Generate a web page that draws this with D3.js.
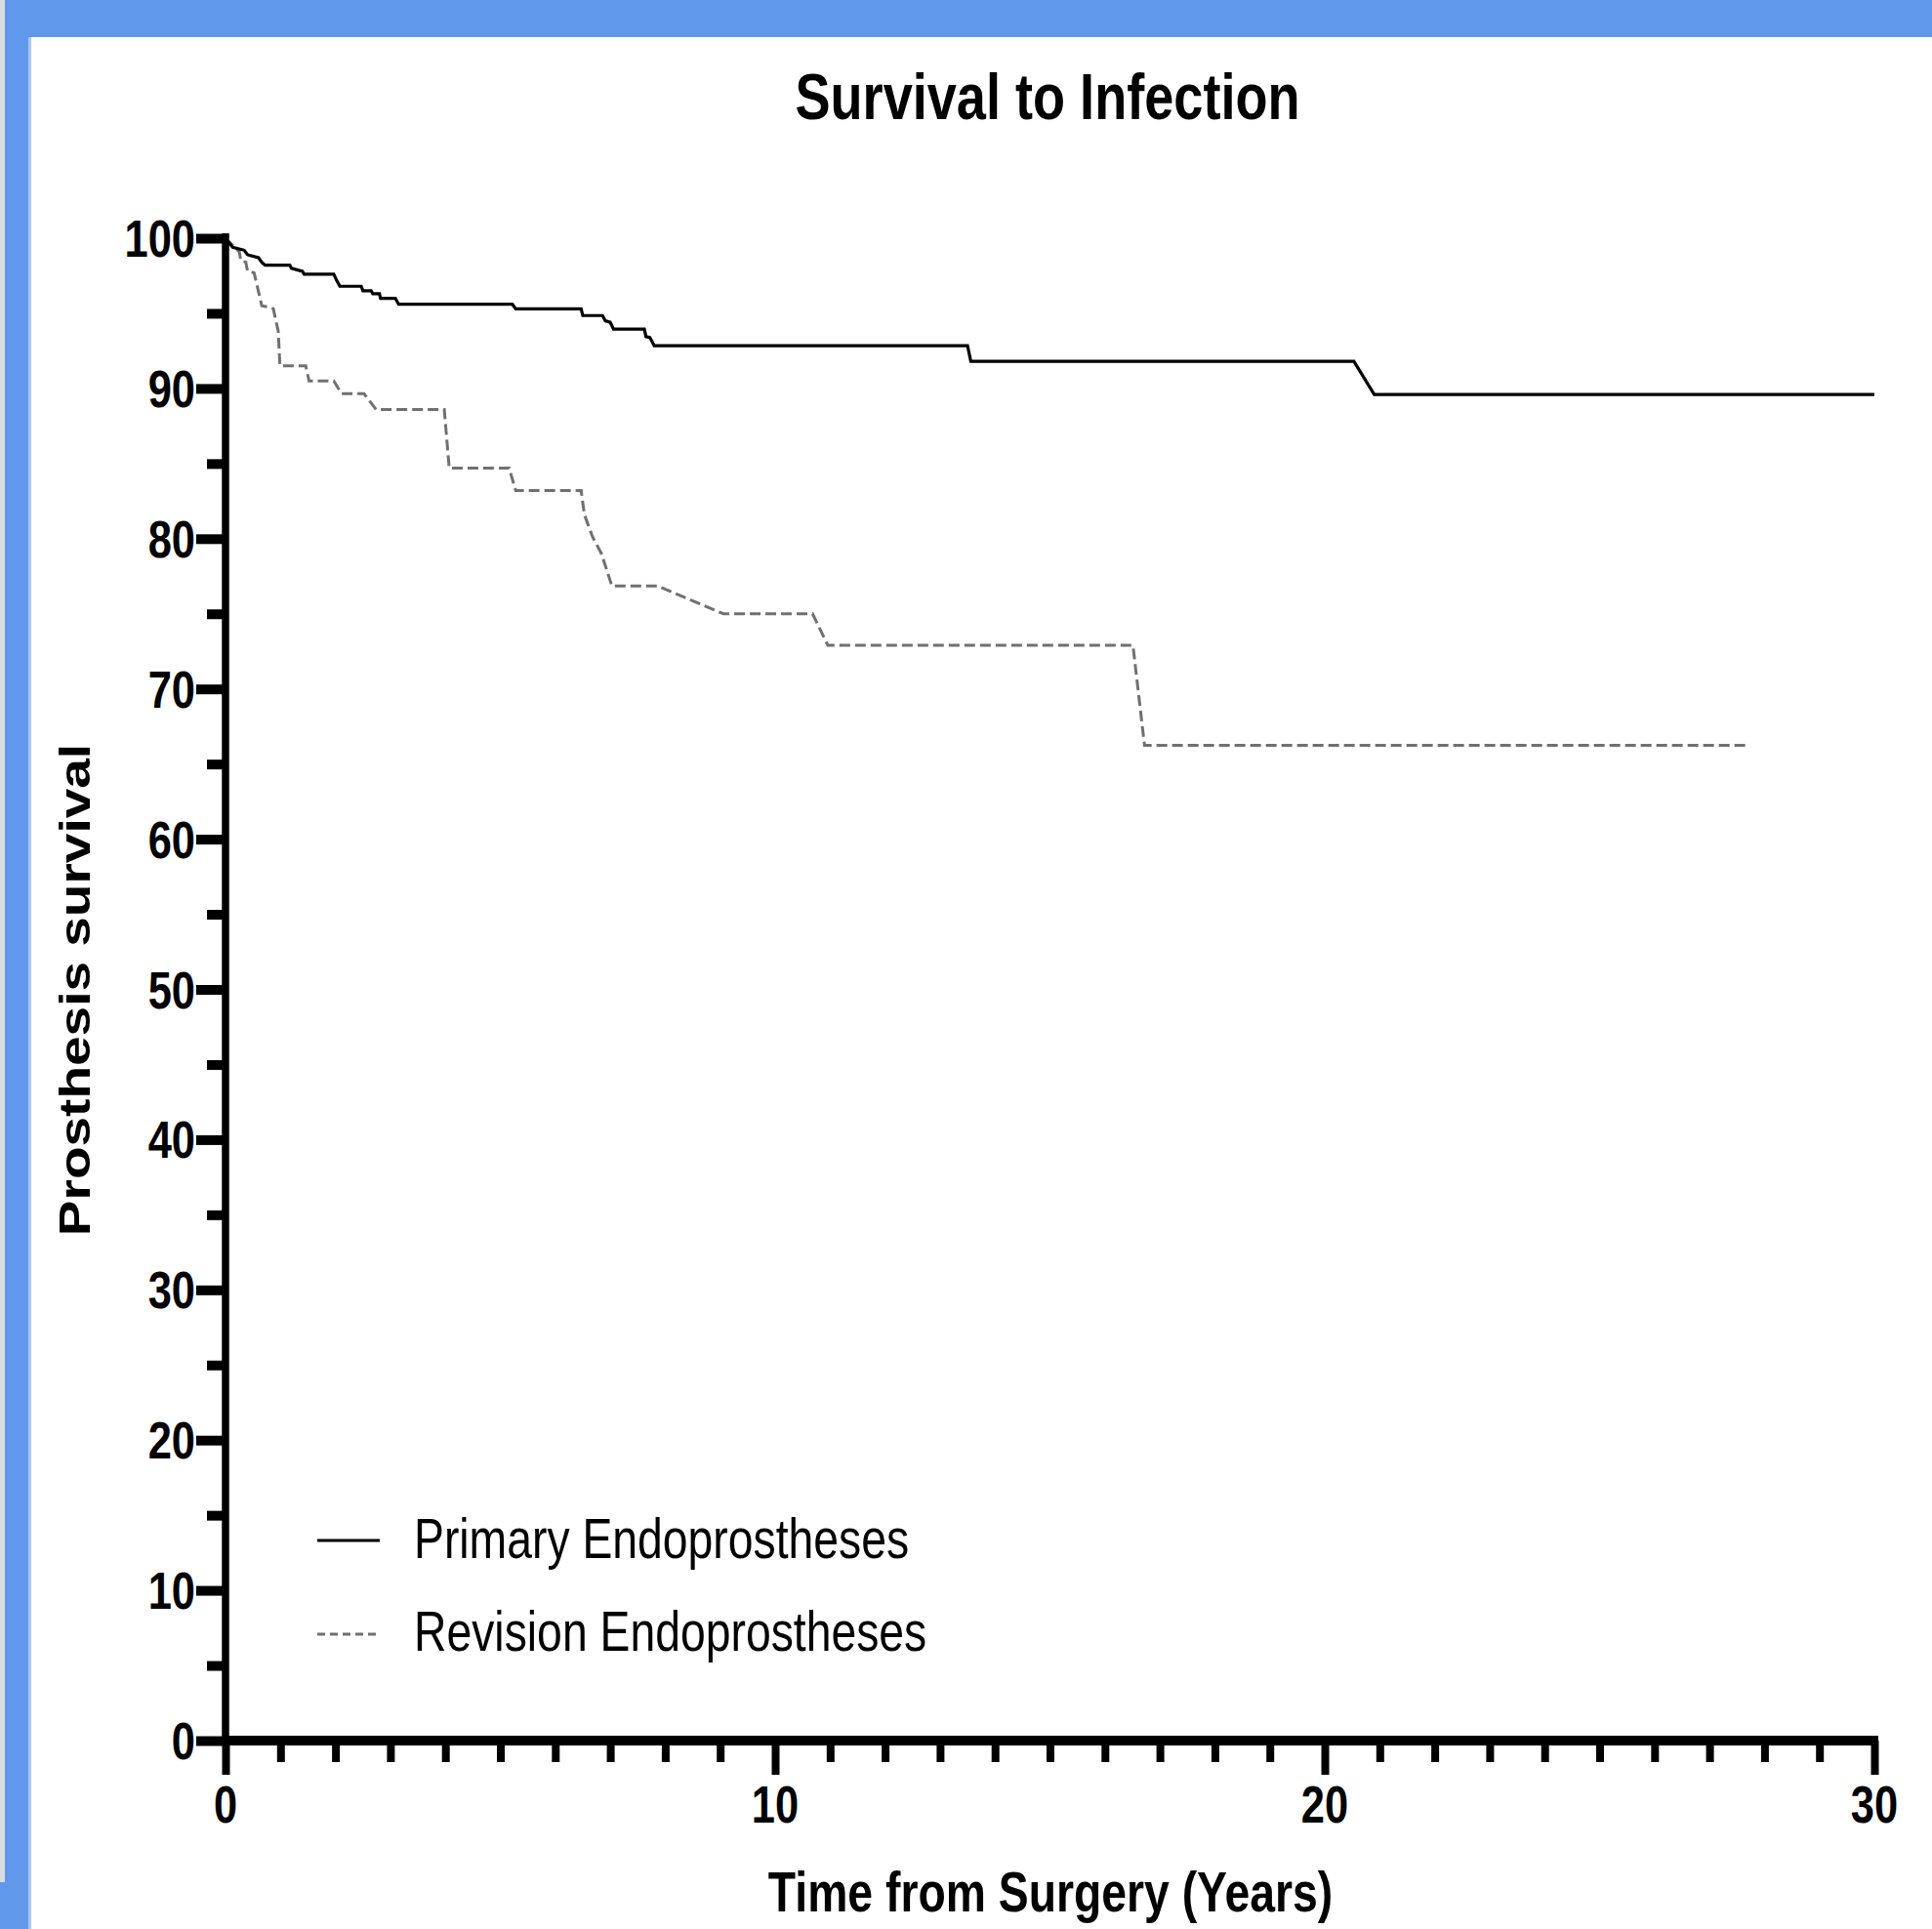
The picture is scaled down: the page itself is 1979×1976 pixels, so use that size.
<!DOCTYPE html>
<html>
<head>
<meta charset="utf-8">
<script src="https://cdn.jsdelivr.net/npm/d3@7"></script>
<style>
  html, body { margin: 0; padding: 0; background: #ffffff; }
  svg { display: block; }
</style>
</head>
<body>
<script>
// ---- data ----
const primaryTime = [0, 0.13, 0.34, 0.40, 0.60, 0.66, 0.72, 1.17, 1.20, 1.40, 1.43, 1.97, 2.02, 2.08, 2.47, 2.50, 2.65, 2.68, 2.80, 2.82, 3.09, 3.15, 5.22, 5.28, 6.47, 6.50, 6.86, 6.91, 7.00, 7.06, 7.62, 7.65, 7.72, 7.80, 13.50, 13.56, 20.53, 20.90, 30.0];
const primarySurv = [100, 99.4, 99.2, 98.9, 98.7, 98.4, 98.2, 98.2, 98.0, 97.8, 97.6, 97.6, 97.2, 96.8, 96.8, 96.5, 96.5, 96.3, 96.3, 96.0, 96.0, 95.6, 95.6, 95.3, 95.3, 94.85, 94.85, 94.5, 94.4, 93.95, 93.95, 93.45, 93.4, 92.85, 92.85, 91.8, 91.8, 89.6, 89.6];

const revisionTime = [0, 0.25, 0.28, 0.37, 0.40, 0.52, 0.66, 0.81, 0.87, 0.96, 0.99, 1.46, 1.52, 1.97, 2.11, 2.52, 2.74, 3.98, 4.07, 5.16, 5.28, 6.47, 6.53, 6.68, 6.84, 7.03, 7.86, 9.06, 10.68, 10.96, 16.51, 16.72, 27.65];
const revisionSurv = [100, 99.1, 98.5, 98.4, 97.8, 97.7, 95.5, 95.4, 95.3, 93.8, 91.5, 91.5, 90.5, 90.5, 89.65, 89.65, 88.6, 88.6, 84.7, 84.7, 83.2, 83.2, 81.6, 80.1, 79.0, 76.85, 76.85, 75.0, 75.0, 72.9, 72.9, 66.25, 66.25];

const seriesNames = ["Primary Endoprostheses", "Revision Endoprostheses"];
const yMajorTicks = [0, 10, 20, 30, 40, 50, 60, 70, 80, 90, 100];
const yMinorTicks = [5, 15, 25, 35, 45, 55, 65, 75, 85, 95];
const xMajorTicks = [0, 10, 20, 30];
const xMinorTicks = [1,2,3,4,5,6,7,8,9,11,12,13,14,15,16,17,18,19,21,22,23,24,25,26,27,28,29];
const titleText = "Survival to Infection";
const xTitle = "Time from Surgery (Years)";
const yTitle = "Prosthesis survival";

// ---- layout ----
const W = 1979, H = 1976;
const SQ = 0.82; // horizontal squeeze of the original picture
const FONT = "'Liberation Sans', Arial, Helvetica, sans-serif";

const svg = d3.select("body").append("svg")
  .attr("width", W).attr("height", H)
  .attr("viewBox", `0 0 ${W} ${H}`);

// frame
svg.append("rect").attr("x", 0).attr("y", 0).attr("width", W).attr("height", H).attr("fill", "#ffffff");
svg.append("rect").attr("x", 0).attr("y", 0).attr("width", W).attr("height", 38).attr("fill", "#6099eb");
svg.append("rect").attr("x", 0).attr("y", 0).attr("width", 32).attr("height", H).attr("fill", "#6099eb");
svg.append("rect").attr("x", 0).attr("y", 0).attr("width", 5).attr("height", 1928).attr("fill", "#dcdcdc");
svg.append("rect").attr("x", 29).attr("y", 38).attr("width", 3).attr("height", H - 38).attr("fill", "#a9c7f3");

const x = d3.scaleLinear().domain([0, 30]).range([231, 1920]);
const y = d3.scaleLinear().domain([0, 100]).range([1783, 244]);

function sqText(px, py, str, opts) {
  const g = svg.append("g")
    .attr("transform", `translate(${px},${py}) scale(${SQ},1)` + (opts.rotate ? ` rotate(${opts.rotate})` : ""));
  g.append("text")
    .attr("x", 0).attr("y", 0)
    .attr("text-anchor", opts.anchor || "start")
    .attr("font-family", FONT)
    .attr("font-weight", opts.weight || "bold")
    .attr("font-size", opts.size)
    .attr("fill", "#000")
    .text(str);
}

// ---- axes ----
const yAxisMajor = d3.axisLeft(y).tickValues(yMajorTicks).tickSize(30).tickSizeOuter(0).tickFormat("");
const yAxisMinor = d3.axisLeft(y).tickValues(yMinorTicks).tickSize(19).tickSizeOuter(0).tickFormat("");
const xAxisMajor = d3.axisBottom(x).tickValues(xMajorTicks).tickSize(35).tickSizeOuter(0).tickFormat("");
const xAxisMinor = d3.axisBottom(x).tickValues(xMinorTicks).tickSize(22).tickSizeOuter(0).tickFormat("");

function styleAxis(g, tickW) {
  g.select(".domain").remove();
  g.selectAll(".tick line").attr("stroke", "#000").attr("stroke-width", tickW);
}

const gy1 = svg.append("g").attr("transform", `translate(${x(0)},0)`).call(yAxisMajor);
styleAxis(gy1, 10);
const gy2 = svg.append("g").attr("transform", `translate(${x(0)},0)`).call(yAxisMinor);
styleAxis(gy2, 10);
const gx1 = svg.append("g").attr("transform", `translate(0,${y(0)})`).call(xAxisMajor);
styleAxis(gx1, 8);
const gx2 = svg.append("g").attr("transform", `translate(0,${y(0)})`).call(xAxisMinor);
styleAxis(gx2, 8);

// axis lines
svg.append("line")
  .attr("x1", x(0)).attr("x2", x(0))
  .attr("y1", y(100) - 5).attr("y2", y(0) + 5)
  .attr("stroke", "#000").attr("stroke-width", 7.5);
svg.append("line")
  .attr("x1", x(0)).attr("x2", x(30) + 4)
  .attr("y1", y(0)).attr("y2", y(0))
  .attr("stroke", "#000").attr("stroke-width", 10);

// tick labels
yMajorTicks.forEach(v => sqText(200, y(v) + 19, String(v), { anchor: "end", size: 53 }));
xMajorTicks.forEach(t => sqText(x(t), 1867, String(t), { anchor: "middle", size: 53 }));

// titles
sqText(1073, 122, titleText, { anchor: "middle", size: 66 });
sqText(1076, 1958, xTitle, { anchor: "middle", size: 56.5 });
sqText(92, 1014, yTitle, { anchor: "middle", size: 55, rotate: -90 });

// ---- curves ----
const line = d3.line().x(d => x(d[0])).y(d => y(d[1]));
const primaryData = primaryTime.map((t, i) => [t, primarySurv[i]]);
const revisionData = revisionTime.map((t, i) => [t, revisionSurv[i]]);

svg.append("path").datum(revisionData)
  .attr("d", line)
  .attr("fill", "none")
  .attr("stroke", "#707070")
  .attr("stroke-width", 3)
  .attr("stroke-dasharray", "11,5");

svg.append("path").datum(primaryData)
  .attr("d", line)
  .attr("fill", "none")
  .attr("stroke", "#000")
  .attr("stroke-width", 3.2)
  .attr("stroke-linejoin", "miter");

// ---- legend ----
svg.append("line").attr("x1", 325).attr("x2", 389).attr("y1", 1578).attr("y2", 1578)
  .attr("stroke", "#000").attr("stroke-width", 3);
svg.append("line").attr("x1", 325).attr("x2", 390).attr("y1", 1674).attr("y2", 1674)
  .attr("stroke", "#707070").attr("stroke-width", 3).attr("stroke-dasharray", "8,5");
sqText(424, 1596, seriesNames[0], { anchor: "start", size: 56.5, weight: "normal" });
sqText(424, 1691, seriesNames[1], { anchor: "start", size: 56.5, weight: "normal" });
</script>
</body>
</html>
